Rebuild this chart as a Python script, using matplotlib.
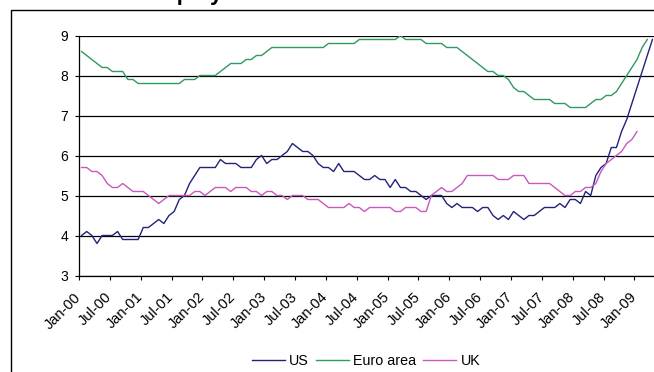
import numpy as np
import matplotlib
matplotlib.use("Agg")
from matplotlib import pyplot as plt
from matplotlib.patches import Rectangle

plt.rcParams['font.family'] = ['Liberation Sans', 'DejaVu Sans']

# Data, monthly from Jan-00
us = [4.0, 4.1, 4.0, 3.8, 4.0, 4.0, 4.0, 4.1, 3.9, 3.9, 3.9, 3.9,
      4.2, 4.2, 4.3, 4.4, 4.3, 4.5, 4.6, 4.9, 5.0, 5.3, 5.5, 5.7,
      5.7, 5.7, 5.7, 5.9, 5.8, 5.8, 5.8, 5.7, 5.7, 5.7, 5.9, 6.0,
      5.8, 5.9, 5.9, 6.0, 6.1, 6.3, 6.2, 6.1, 6.1, 6.0, 5.8, 5.7,
      5.7, 5.6, 5.8, 5.6, 5.6, 5.6, 5.5, 5.4, 5.4, 5.5, 5.4, 5.4,
      5.2, 5.4, 5.2, 5.2, 5.1, 5.1, 5.0, 4.9, 5.0, 5.0, 5.0, 4.8,
      4.7, 4.8, 4.7, 4.7, 4.7, 4.6, 4.7, 4.7, 4.5, 4.4, 4.5, 4.4,
      4.6, 4.5, 4.4, 4.5, 4.5, 4.6, 4.7, 4.7, 4.7, 4.8, 4.7, 4.9,
      4.9, 4.8, 5.1, 5.0, 5.5, 5.7, 5.8, 6.2, 6.2, 6.6, 6.9, 7.3,
      7.7, 8.1, 8.5, 8.9]

euro = [8.6, 8.5, 8.4, 8.3, 8.2, 8.2, 8.1, 8.1, 8.1, 7.9, 7.9, 7.8,
        7.8, 7.8, 7.8, 7.8, 7.8, 7.8, 7.8, 7.8, 7.9, 7.9, 7.9, 8.0,
        8.0, 8.0, 8.0, 8.1, 8.2, 8.3, 8.3, 8.3, 8.4, 8.4, 8.5, 8.5,
        8.6, 8.7, 8.7, 8.7, 8.7, 8.7, 8.7, 8.7, 8.7, 8.7, 8.7, 8.7,
        8.8, 8.8, 8.8, 8.8, 8.8, 8.8, 8.9, 8.9, 8.9, 8.9, 8.9, 8.9,
        8.9, 8.9, 9.0, 8.9, 8.9, 8.9, 8.9, 8.8, 8.8, 8.8, 8.8, 8.7,
        8.7, 8.7, 8.6, 8.5, 8.4, 8.3, 8.2, 8.1, 8.1, 8.0, 8.0, 7.9,
        7.7, 7.6, 7.6, 7.5, 7.4, 7.4, 7.4, 7.4, 7.3, 7.3, 7.3, 7.2,
        7.2, 7.2, 7.2, 7.3, 7.4, 7.4, 7.5, 7.5, 7.6, 7.8, 8.0, 8.2,
        8.4, 8.7, 8.9]

uk = [5.7, 5.7, 5.6, 5.6, 5.5, 5.3, 5.2, 5.2, 5.3, 5.2, 5.1, 5.1,
      5.1, 5.0, 4.9, 4.8, 4.9, 5.0, 5.0, 5.0, 5.0, 5.0, 5.1, 5.1,
      5.0, 5.1, 5.2, 5.2, 5.2, 5.1, 5.2, 5.2, 5.2, 5.1, 5.1, 5.0,
      5.1, 5.1, 5.0, 5.0, 4.9, 5.0, 5.0, 5.0, 4.9, 4.9, 4.9, 4.8,
      4.7, 4.7, 4.7, 4.7, 4.8, 4.7, 4.7, 4.6, 4.7, 4.7, 4.7, 4.7,
      4.7, 4.6, 4.6, 4.7, 4.7, 4.7, 4.6, 4.6, 5.0, 5.1, 5.2, 5.1,
      5.1, 5.2, 5.3, 5.5, 5.5, 5.5, 5.5, 5.5, 5.5, 5.4, 5.4, 5.4,
      5.5, 5.5, 5.5, 5.3, 5.3, 5.3, 5.3, 5.3, 5.2, 5.1, 5.0, 5.0,
      5.1, 5.1, 5.2, 5.2, 5.3, 5.6, 5.8, 5.9, 6.0, 6.1, 6.3, 6.4,
      6.6]

tick_labels = ['Jan-00', 'Jul-00', 'Jan-01', 'Jul-01', 'Jan-02', 'Jul-02',
               'Jan-03', 'Jul-03', 'Jan-04', 'Jul-04', 'Jan-05', 'Jul-05',
               'Jan-06', 'Jul-06', 'Jan-07', 'Jul-07', 'Jan-08', 'Jul-08',
               'Jan-09']

fig = plt.figure(figsize=(6.54, 3.72), dpi=100)
ax = fig.add_axes([79 / 654, 96.5 / 372, 576 / 654, 240 / 372])

# points sit in the middle of each month
ax.plot(np.arange(len(us)) + 0.5, us, color='#22227a', lw=1.0, label='US')
ax.plot(np.arange(len(euro)) + 0.5, euro, color='#2e9960', lw=1.0, label='Euro area')
ax.plot(np.arange(len(uk)) + 0.5, uk, color='#c858bc', lw=1.0, label='UK')

ax.set_xlim(0, 112)
ax.set_ylim(3, 9)
ax.set_yticks(range(3, 10))
ax.yaxis.grid(True, color='black', lw=0.9)
ax.set_axisbelow(True)
ax.set_xticks(np.arange(0, 112, 6))
ax.set_xticklabels(tick_labels, rotation=45, ha='right', va='center',
                   rotation_mode='anchor')
ax.tick_params(axis='both', labelsize=10, direction='out', length=3, width=0.8,
               colors='black')
ax.tick_params(axis='x', pad=11, labelsize=10.5)
ax.tick_params(axis='y', pad=5)
for s in ['top', 'right']:
    ax.spines[s].set_visible(False)
for s in ['left', 'bottom']:
    ax.spines[s].set_linewidth(0.9)

fig.legend(loc='center', bbox_to_anchor=(366 / 654, 11 / 372), ncol=3,
           frameon=False, fontsize=10.3, handlelength=2.3, handletextpad=0.3,
           columnspacing=0.5)

# chart border and the title, which the picture cuts at the top edge
fig.add_artist(Rectangle((11 / 654, -0.1), 1.2, 1.1 - 10 / 372,
                         transform=fig.transFigure, fill=False, lw=1.0,
                         ec='black'))
fig.text(115 / 654, 1.0, 'Unemployment rate', fontsize=16, fontweight='bold',
         ha='left', va='baseline')

fig.savefig('out.png', dpi=100)
